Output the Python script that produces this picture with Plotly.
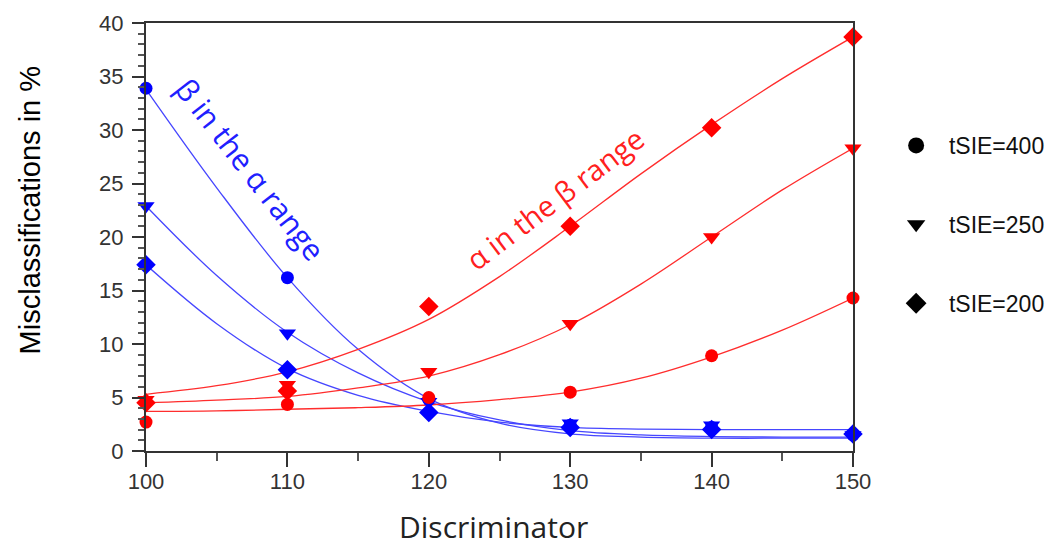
import plotly.graph_objects as go

# ---- data ----
disc = [100, 110, 120, 130, 140, 150]
# beta in the alpha range (blue)
beta_400 = [33.9, 16.2, 4.8, 2.4, 2.2, 1.5]
beta_250 = [22.9, 11.0, 4.6, 2.6, 2.4, 1.5]
beta_200 = [17.4, 7.6, 3.6, 2.2, 2.0, 1.6]
# alpha in the beta range (red)
alpha_400 = [2.7, 4.35, 5.0, 5.5, 8.9, 14.3]
alpha_250 = [4.8, 6.2, 7.4, 11.9, 20.0, 28.3]
alpha_200 = [4.5, 5.6, 13.5, 21.0, 30.2, 38.7]

# fitted curves
fit_x = [100, 105, 110, 115, 120, 125, 130, 135, 140, 145, 150]
beta_fit_400 = [33.8, 24.6, 16.2, 9.5, 4.9, 2.6, 1.6, 1.3, 1.2, 1.2, 1.2]
beta_fit_250 = [22.9, 16.4, 11.1, 7.3, 4.6, 2.9, 1.9, 1.5, 1.35, 1.3, 1.3]
beta_fit_200 = [17.4, 11.9, 7.7, 5.2, 3.7, 2.7, 2.2, 2.05, 2.0, 2.0, 2.0]
alpha_fit_400 = [3.7, 3.75, 3.9, 4.05, 4.3, 4.8, 5.5, 6.8, 8.8, 11.3, 14.3]
alpha_fit_250 = [4.5, 4.75, 5.1, 5.9, 7.0, 9.0, 11.8, 15.6, 20.0, 24.4, 28.3]
alpha_fit_200 = [5.3, 6.1, 7.4, 9.5, 12.3, 16.3, 21.0, 25.9, 30.5, 34.8, 38.7]

legend_labels = ["tSIE=400", "tSIE=250", "tSIE=200"]
symbols = ["circle", "triangle-down", "diamond"]

BLUE = "#0000ff"
BLUE_LINE = "rgb(70,70,255)"
RED = "#ff0000"
RED_LINE = "rgb(255,45,45)"

fig = go.Figure()

fits = [
    (beta_fit_400, BLUE_LINE), (beta_fit_250, BLUE_LINE), (beta_fit_200, BLUE_LINE),
    (alpha_fit_400, RED_LINE), (alpha_fit_250, RED_LINE), (alpha_fit_200, RED_LINE),
]
for ys, col in fits:
    fig.add_trace(go.Scatter(x=fit_x, y=ys, mode="lines", line=dict(color=col, width=1.3, shape="spline"),
                             showlegend=False, hoverinfo="skip", cliponaxis=False))

pts = [
    (beta_400, BLUE, 0), (beta_250, BLUE, 1), (beta_200, BLUE, 2),
    (alpha_400, RED, 0), (alpha_250, RED, 1), (alpha_200, RED, 2),
]
sizes = {"circle": 13, "triangle-down": 15, "diamond": 15}
for ys, col, k in pts:
    fig.add_trace(go.Scatter(x=disc, y=ys, mode="markers",
                             marker=dict(color=col, symbol=symbols[k], size=sizes[symbols[k]]),
                             showlegend=False, cliponaxis=False))

for k, lab in enumerate(legend_labels):
    fig.add_trace(go.Scatter(x=[None], y=[None], mode="markers", name="\u00a0\u00a0" + lab, legendgroup=lab,
                             marker=dict(color="black", symbol=symbols[k], size=18)))

fig.add_annotation(x=107.4, y=26.3, xref="x", yref="y", text="β in the α range", showarrow=False,
                   textangle=52, font=dict(family="Open Sans", size=30, color="#2020ff"))
fig.add_annotation(x=128.9, y=23.6, xref="x", yref="y", text="α in the β range", showarrow=False,
                   textangle=-37, font=dict(family="Open Sans", size=29, color="#ff2020"))

fig.add_annotation(x=-0.189, y=0.563, xref="paper", yref="paper", text="Misclassifications in %",
                   showarrow=False, textangle=-90, font=dict(family="Liberation Sans", size=29, color="black"))
fig.add_annotation(x=0.492, y=-0.228, xref="paper", yref="paper", text="Discriminator",
                   showarrow=False, font=dict(family="Open Sans", size=30, color="#222"))

axis_common = dict(showline=True, linecolor="#333", linewidth=2, mirror=True, showgrid=False, zeroline=False,
                   ticks="outside", tickwidth=1.5, tickcolor="#333",
                   tickfont=dict(family="Liberation Sans", size=22, color="#333"))

fig.update_xaxes(range=[100, 150], dtick=10, tick0=100, ticklen=14, ticklabelstandoff=-4,
                 minor=dict(dtick=5, ticks="outside", ticklen=8, tickwidth=1.5, tickcolor="#555"),
                 **axis_common)
fig.update_yaxes(range=[0, 40], dtick=5, tick0=0, ticklen=12, ticklabelstandoff=4,
                 minor=dict(dtick=1, ticks="outside", ticklen=6, tickwidth=1.5, tickcolor="#555"),
                 **axis_common)

fig.update_layout(width=1061, height=545, autosize=False,
                  margin=dict(l=138, r=216, t=15, b=102, autoexpand=False),
                  plot_bgcolor="white", paper_bgcolor="white",
                  legend=dict(x=1.061, y=0.764, xanchor="left", yanchor="top", tracegroupgap=46,
                              font=dict(family="Liberation Sans", size=23, color="#111"),
                              bgcolor="rgba(0,0,0,0)"))

fig.write_html("out.html")
